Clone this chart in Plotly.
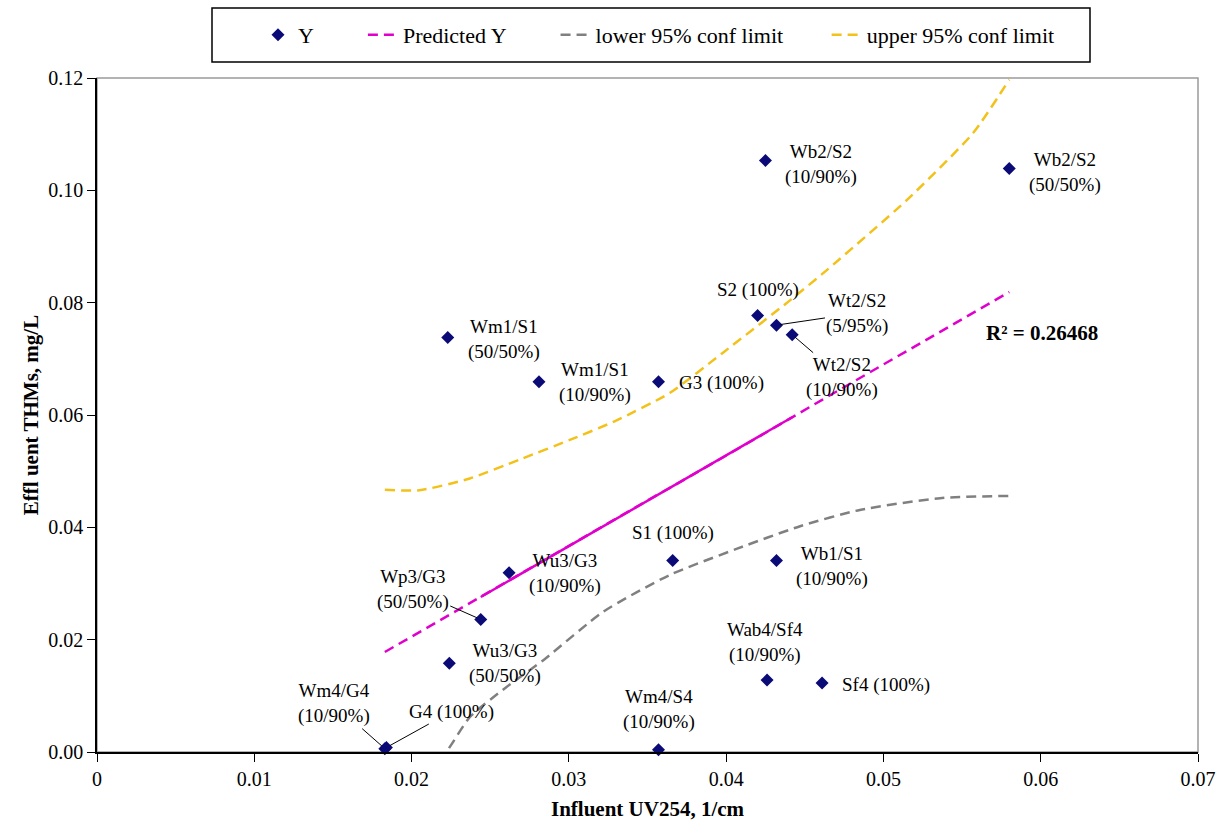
import plotly.graph_objects as go

# ---------------- data ----------------
x_uv = [0.0223, 0.0281, 0.0357, 0.0420, 0.0432, 0.0442, 0.0425, 0.0580, 0.0366,
        0.0432, 0.0262, 0.0244, 0.0224, 0.0426, 0.0461, 0.0357, 0.0183, 0.0184]
y_thm = [0.0738, 0.0659, 0.0659, 0.0777, 0.0760, 0.0743, 0.1053, 0.1039, 0.0341,
         0.0341, 0.0319, 0.0236, 0.0158, 0.0128, 0.0123, 0.0004, 0.0006, 0.0008]
point_labels = ["Wm1/S1<br>(50/50%)", "Wm1/S1<br>(10/90%)", "G3 (100%)", "S2 (100%)",
                "Wt2/S2<br>(5/95%)", "Wt2/S2<br>(10/90%)", "Wb2/S2<br>(10/90%)",
                "Wb2/S2<br>(50/50%)", "S1 (100%)", "Wb1/S1<br>(10/90%)",
                "Wu3/G3<br>(10/90%)", "Wp3/G3<br>(50/50%)", "Wu3/G3<br>(50/50%)",
                "Wab4/Sf4<br>(10/90%)", "Sf4 (100%)", "Wm4/S4<br>(10/90%)",
                "Wm4/G4<br>(10/90%)", "G4 (100%)"]

pred_x = [0.0183, 0.0223, 0.0244, 0.0262, 0.0281, 0.0357, 0.0366, 0.0420, 0.0425,
          0.0432, 0.0442, 0.0461, 0.0580]
pred_y = [0.0178, 0.0243, 0.0276, 0.0305, 0.0336, 0.0459, 0.0473, 0.0560, 0.0568,
          0.0579, 0.0596, 0.0627, 0.0819]

lower_x = [0.0183, 0.0222, 0.0237, 0.0260, 0.0284, 0.0322, 0.0364, 0.0407, 0.0447,
           0.0485, 0.0536, 0.0580]
lower_y = [-0.0120, 0.0000, 0.0062, 0.0115, 0.0164, 0.0250, 0.0315, 0.0362, 0.0402,
           0.0431, 0.0452, 0.0456]

upper_x = [0.0183, 0.0205, 0.0237, 0.0269, 0.0301, 0.0330, 0.0364, 0.0398, 0.0441,
           0.0464, 0.0515, 0.0557, 0.0580]
upper_y = [0.0467, 0.0466, 0.0487, 0.0521, 0.0556, 0.0590, 0.0639, 0.0711, 0.0805,
           0.0858, 0.0983, 0.1102, 0.1197]

r2_text = "R² = 0.26468"
x_tick_vals = [0, 0.01, 0.02, 0.03, 0.04, 0.05, 0.06, 0.07]
x_tick_text = ["0", "0.01", "0.02", "0.03", "0.04", "0.05", "0.06", "0.07"]
y_tick_vals = [0, 0.02, 0.04, 0.06, 0.08, 0.10, 0.12]
y_tick_text = ["0.00", "0.02", "0.04", "0.06", "0.08", "0.10", "0.12"]

# ---------------- styling / layout ----------------
SERIF = "Liberation Serif, Times New Roman, serif"
NAVY = "#0b0b78"
MAGENTA = "#e000cc"
GOLD = "#f2c21a"
GRAY = "#808080"
NB = "\u00a0"

# label placement: (mode, dx, dy) in screen pixels relative to the point
label_place = [("r", 0, 2), ("r", 0, 1), ("r", 0, 1), ("a", 0, -26),
               ("l", 81, -12), ("l", 50, 43), ("r", 0, 4), ("r", 0, 4),
               ("a", 0, -27), ("r", 0, 6), ("r", 0, 1), ("l", -68, -30),
               ("r", 0, 0), ("a", -2, -38), ("r", 0, 2), ("a", 0, -40),
               ("l", -51, -45), ("l", 65, -36)]

fig = go.Figure()

fig.add_trace(go.Scatter(
    x=x_uv, y=y_thm, mode="markers", name="Y" + NB * 8,
    marker=dict(symbol="diamond", size=10, color=NAVY),
    cliponaxis=False))

fig.add_trace(go.Scatter(
    x=pred_x, y=pred_y, mode="lines", name="Predicted Y" + NB * 8,
    line=dict(color=MAGENTA, width=2.5, dash="10px,6px")))

# overlapping portion of the predicted line renders solid in the reference
fig.add_trace(go.Scatter(
    x=pred_x[2:11], y=pred_y[2:11], mode="lines", showlegend=False,
    line=dict(color=MAGENTA, width=2.5), hoverinfo="skip"))

fig.add_trace(go.Scatter(
    x=lower_x, y=lower_y, mode="lines", name="lower 95% conf limit" + NB * 7,
    line=dict(color=GRAY, width=2.5, dash="10px,6px", shape="spline", smoothing=0.6)))

fig.add_trace(go.Scatter(
    x=upper_x, y=upper_y, mode="lines", name="upper 95% conf limit",
    line=dict(color=GOLD, width=2.5, dash="10px,6px", shape="spline", smoothing=0.6)))

annotations = []
for xv, yv, txt, (mode, dx, dy) in zip(x_uv, y_thm, point_labels, label_place):
    base = dict(x=xv, y=yv, xref="x", yref="y", text=txt, align="center",
                font=dict(family=SERIF, size=19, color="black"))
    if mode == "r":
        base.update(showarrow=False, xanchor="left", yanchor="middle",
                    xshift=18, yshift=-dy)
    elif mode == "a":
        base.update(showarrow=False, xanchor="center", yanchor="middle",
                    xshift=dx, yshift=-dy)
    else:
        base.update(showarrow=True, arrowhead=0, arrowwidth=1, arrowcolor="black",
                    ax=dx, ay=dy, standoff=4)
    annotations.append(base)

annotations.append(dict(x=0.0601, y=0.0746, xref="x", yref="y", text="<b>" + r2_text + "</b>",
                        showarrow=False, font=dict(family=SERIF, size=21, color="black")))

L, R, T, B = 97, 27, 78, 69
W, H = 1225, 821
pw, ph = W - L - R, H - T - B

def px_to_paper_x(px):
    return (px - L) / pw

def px_to_paper_y(py):
    return (H - B - py) / ph

shapes = [
    # plot-area frame (gray)
    dict(type="rect", xref="paper", yref="paper", x0=0, x1=1, y0=0, y1=1,
         line=dict(color="#9a9a9a", width=1.5), layer="below"),
    # legend frame
    dict(type="rect", xref="paper", yref="paper",
         x0=px_to_paper_x(212), x1=px_to_paper_x(1090),
         y0=px_to_paper_y(62), y1=px_to_paper_y(8),
         line=dict(color="black", width=1.5)),
]

fig.update_layout(
    width=W, height=H,
    margin=dict(l=L, r=R, t=T, b=B),
    paper_bgcolor="white", plot_bgcolor="white",
    font=dict(family=SERIF, size=20, color="black"),
    showlegend=True,
    legend=dict(orientation="h", x=px_to_paper_x(258), xanchor="left",
                y=px_to_paper_y(35), yanchor="middle",
                font=dict(family=SERIF, size=22, color="black"),
                bgcolor="rgba(0,0,0,0)", borderwidth=0, itemwidth=30),
    xaxis=dict(range=[0, 0.07], tickvals=x_tick_vals, ticktext=x_tick_text,
               showgrid=False, zeroline=False, showline=True, linecolor="black",
               linewidth=1.5, ticks="outside", ticklen=8, tickcolor="black",
               tickfont=dict(family=SERIF, size=20), automargin=False,
               title=dict(text="<b>Influent UV254, 1/cm</b>", standoff=14,
                          font=dict(family=SERIF, size=21))),
    yaxis=dict(range=[0, 0.12], tickvals=y_tick_vals, ticktext=y_tick_text,
               showgrid=False, zeroline=False, showline=True, linecolor="black",
               linewidth=1.5, ticks="outside", ticklen=8, tickcolor="black",
               tickfont=dict(family=SERIF, size=20), automargin=False,
               title=dict(text="<b>Effl uent THMs, mg/L</b>", standoff=4,
                          font=dict(family=SERIF, size=21))),
    annotations=annotations,
    shapes=shapes,
)

fig.write_html("out.html")
